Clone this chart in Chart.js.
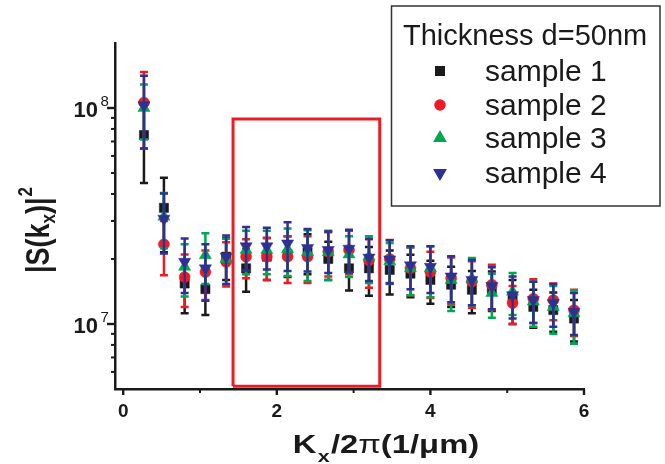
<!DOCTYPE html>
<html><head><meta charset="utf-8">
<script src="https://cdn.jsdelivr.net/npm/chart.js@4.4.1/dist/chart.umd.min.js"></script>
<style>html,body{margin:0;padding:0;background:#fff}canvas{display:block}</style>
</head><body>
<canvas id="c" width="665" height="464"></canvas>
<script>
// ---- data ----
const kx = [0.27,0.53,0.80,1.07,1.34,1.60,1.87,2.14,2.40,2.67,2.94,3.20,3.47,3.74,4.00,4.27,4.54,4.80,5.07,5.34,5.60,5.87];
const sample1 = [7.5e7,3.45e7,1.54e7,1.45e7,2.05e7,1.81e7,2.05e7,2.1e7,2.15e7,2.0e7,1.81e7,1.81e7,1.78e7,1.71e7,1.60e7,1.52e7,1.44e7,1.45e7,1.30e7,1.20e7,1.16e7,1.06e7];
const err1    = [3.0e7,1.3e7,0.42e7,0.35e7,0.45e7,0.4e7,0.45e7,0.45e7,0.45e7,0.4e7,0.38e7,0.46e7,0.41e7,0.38e7,0.36e7,0.32e7,0.32e7,0.3e7,0.3e7,0.24e7,0.24e7,0.23e7];
const sample2 = [1.06e8,2.34e7,1.65e7,1.74e7,1.94e7,2.05e7,2.05e7,2.05e7,2.05e7,2.16e7,2.2e7,1.97e7,2.0e7,1.81e7,1.74e7,1.63e7,1.57e7,1.52e7,1.25e7,1.31e7,1.29e7,1.16e7];
const err2    = [4.1e7,0.66e7,0.45e7,0.45e7,0.45e7,0.42e7,0.45e7,0.5e7,0.5e7,0.5e7,0.5e7,0.5e7,0.45e7,0.45e7,0.42e7,0.4e7,0.38e7,0.36e7,0.25e7,0.3e7,0.25e7,0.28e7];
const sample3 = [1.0e8,3.14e7,1.84e7,2.08e7,2.0e7,2.2e7,2.2e7,2.22e7,2.15e7,2.15e7,2.1e7,2.05e7,1.95e7,1.81e7,1.81e7,1.6e7,1.62e7,1.39e7,1.41e7,1.27e7,1.2e7,1.12e7];
const err3    = [2.85e7,0.9e7,0.5e7,0.55e7,0.48e7,0.5e7,0.5e7,0.55e7,0.57e7,0.55e7,0.45e7,0.5e7,0.42e7,0.45e7,0.48e7,0.45e7,0.4e7,0.32e7,0.31e7,0.3e7,0.3e7,0.31e7];
const sample4 = [1.03e8,3.07e7,1.94e7,1.81e7,2.05e7,2.29e7,2.29e7,2.36e7,2.25e7,2.2e7,2.23e7,2.03e7,1.99e7,1.87e7,1.84e7,1.66e7,1.6e7,1.5e7,1.36e7,1.29e7,1.25e7,1.14e7];
const err4    = [3.8e7,0.95e7,0.55e7,0.53e7,0.52e7,0.52e7,0.5e7,0.6e7,0.5e7,0.48e7,0.5e7,0.45e7,0.45e7,0.42e7,0.45e7,0.4e7,0.38e7,0.33e7,0.3e7,0.28e7,0.28e7,0.25e7];
const seriesNames = ['sample 1','sample 2','sample 3','sample 4'];
const legendTitle = 'Thickness d=50nm';
const rectX = [1.43,1.43,3.34,3.34,1.43];
const rectY = [5.15e6,8.9e7,8.9e7,5.15e6,5.15e6];
const xTickValues = [0,1,2,3,4,5,6];
const xTickLabels = ['0','','2','','4','','6'];
const yMajorTicks = [1e7,1e8];
const yMajorBase = ['10','10'];
const yMajorExp = ['7','8'];
const yMinorTicks = [6e6,7e6,8e6,9e6,2e7,3e7,4e7,5e7,6e7,7e7,8e7,9e7];

// ---- styles ----
const FONT = "'Liberation Sans', Arial, sans-serif";
const AX = '#1a1a1a';
const styles = [
  {color:'#1a1a1a', pointStyle:'rect', radius:6.5, rotation:0},
  {color:'#ed1c24', pointStyle:'circle', radius:5.5, rotation:0},
  {color:'#00a651', pointStyle:'triangle', radius:7, rotation:0},
  {color:'#2e3192', pointStyle:'triangle', radius:7, rotation:180}
];
const values = [sample1,sample2,sample3,sample4];
const errs = [err1,err2,err3,err4];

const datasets = values.map((v,s)=>({
  label: seriesNames[s],
  data: kx.map((x,i)=>({x:x, y:v[i]})),
  errors: errs[s],
  barColor: styles[s].color,
  backgroundColor: styles[s].color,
  borderColor: styles[s].color,
  pointStyle: styles[s].pointStyle,
  pointRadius: styles[s].radius,
  pointRotation: styles[s].rotation,
  pointBorderWidth: 0.5,
  showLine: false,
  order: 5 - s
}));
datasets.push({
  label:'box',
  data: rectX.map((x,i)=>({x:x,y:rectY[i]})),
  showLine:true, borderColor:'#ed1c24', borderWidth:3, pointRadius:0, fill:false,
  tension:0, order:0
});

const errorBars = {
  id:'errorBars',
  beforeDatasetDraw(chart, args){
    const ds = chart.data.datasets[args.index];
    if(!ds.errors) return;
    const xs = chart.scales.x, ys = chart.scales.y, ctx = chart.ctx;
    ctx.save();
    ctx.strokeStyle = ds.barColor; ctx.lineWidth = 2.5; ctx.lineCap='butt';
    ds.data.forEach((p,i)=>{
      const e = ds.errors[i];
      const px = xs.getPixelForValue(p.x);
      const yt = ys.getPixelForValue(p.y + e), yb = ys.getPixelForValue(p.y - e);
      ctx.beginPath();
      ctx.moveTo(px,yt); ctx.lineTo(px,yb);
      ctx.moveTo(px-4,yt); ctx.lineTo(px+4,yt);
      ctx.moveTo(px-4,yb); ctx.lineTo(px+4,yb);
      ctx.stroke();
    });
    ctx.restore();
  }
};

function drawRich(ctx, segs, cx, base){
  let total = 0;
  segs.forEach(s=>{ ctx.font = s.f; s.w = ctx.measureText(s.t).width; total += s.w + (s.gap||0); });
  let x = cx - total/2;
  ctx.textBaseline='alphabetic'; ctx.textAlign='left';
  segs.forEach(s=>{ x += (s.gap||0); ctx.font = s.f; ctx.fillText(s.t, x, base + (s.dy||0)); x += s.w; });
}

const decor = {
  id:'decor',
  afterDraw(chart){
    const ctx = chart.ctx, xs = chart.scales.x, ys = chart.scales.y, ca = chart.chartArea;
    ctx.save();
    ctx.strokeStyle = AX; ctx.fillStyle = AX;
    // ticks
    ctx.lineWidth = 2.4;
    yMajorTicks.forEach(v=>{ const y = ys.getPixelForValue(v); ctx.beginPath(); ctx.moveTo(ca.left,y); ctx.lineTo(ca.left-8,y); ctx.stroke(); });
    ctx.lineWidth = 2;
    yMinorTicks.forEach(v=>{ const y = ys.getPixelForValue(v); ctx.beginPath(); ctx.moveTo(ca.left,y); ctx.lineTo(ca.left-4,y); ctx.stroke(); });
    xTickValues.forEach((v,i)=>{ const x = xs.getPixelForValue(v); ctx.lineWidth = xTickLabels[i] ? 2.4 : 2; ctx.beginPath(); ctx.moveTo(x,ca.bottom); ctx.lineTo(x,ca.bottom+(xTickLabels[i]?6:4)); ctx.stroke(); });
    // x tick labels
    ctx.font = 'bold 19px ' + FONT; ctx.textAlign='center'; ctx.textBaseline='alphabetic';
    xTickValues.forEach((v,i)=>{ if(xTickLabels[i]) ctx.fillText(xTickLabels[i], xs.getPixelForValue(v), ca.bottom + 28); });
    // y tick labels with exponents
    yMajorTicks.forEach((v,i)=>{
      const y = ys.getPixelForValue(v);
      ctx.font = 'bold 22px ' + FONT; ctx.textAlign='right';
      ctx.fillText(yMajorBase[i], 98, y + 9);
      ctx.font = '15px ' + FONT; ctx.textAlign='left';
      ctx.fillText(yMajorExp[i], 100.5, y - 2);
    });
    // x title
    ctx.save();
    ctx.translate(386, 453); ctx.scale(1.26, 1);
    drawRich(ctx, [
      {t:'K', f:'bold 26px '+FONT},
      {t:'x', f:'bold 17px '+FONT, dy:9, gap:1},
      {t:'/2', f:'bold 26px '+FONT, gap:1},
      {t:'π', f:'26px '+FONT},
      {t:'(1/', f:'bold 26px '+FONT},
      {t:'μ', f:'bold 26px '+FONT},
      {t:'m)', f:'bold 26px '+FONT}
    ], 0, 0);
    ctx.restore();
    // y title
    ctx.save();
    ctx.translate(49, 230); ctx.rotate(-Math.PI/2); ctx.scale(1, 1.2);
    drawRich(ctx, [
      {t:'|S(k', f:'bold 27px '+FONT},
      {t:'x', f:'bold 17px '+FONT, dy:5},
      {t:')|', f:'bold 27px '+FONT},
      {t:'2', f:'bold 17px '+FONT, dy:-14, gap:1}
    ], 0, 0);
    ctx.restore();
    // legend
    ctx.fillStyle = '#fff'; ctx.fillRect(391.5, 6, 268.5, 200);
    ctx.lineWidth = 1.5; ctx.strokeStyle = '#333'; ctx.strokeRect(391.5, 6, 268.5, 200);
    ctx.fillStyle = AX;
    ctx.font = '29px ' + FONT; ctx.textAlign='left'; ctx.textBaseline='alphabetic';
    ctx.fillText(legendTitle, 403, 45);
    const rowsY = [71, 105, 138, 173];
    seriesNames.forEach((n,i)=>{
      ctx.fillStyle = styles[i].color; ctx.strokeStyle = styles[i].color;
      Chart.helpers.drawPoint(ctx, {pointStyle:styles[i].pointStyle, rotation:styles[i].rotation, radius:styles[i].radius-0.5, borderWidth:0.5}, 440, rowsY[i]);
      ctx.fillStyle = AX;
      ctx.font = '30px ' + FONT;
      ctx.fillText(n, 485, rowsY[i] + 10);
    });
    ctx.restore();
  }
};

new Chart(document.getElementById('c'), {
  type:'scatter',
  data:{datasets},
  plugins:[errorBars, decor],
  options:{
    responsive:false, animation:false,
    layout:{padding:{left:0, top:43, right:81, bottom:0}},
    plugins:{legend:{display:false}, tooltip:{enabled:false}},
    scales:{
      x:{type:'linear', min:-0.107, max:6,
        afterFit(s){ s.height = 75; },
        afterBuildTicks(s){ s.ticks = xTickValues.map(v=>({value:v})); },
        grid:{display:false, drawTicks:false},
        border:{display:true, color:AX, width:2.5},
        ticks:{display:false}
      },
      y:{type:'logarithmic', min:5e6, max:2e8,
        afterFit(s){ s.width = 115; },
        afterBuildTicks(s){ s.ticks = yMajorTicks.map(v=>({value:v})); },
        grid:{display:false, drawTicks:false},
        border:{display:true, color:AX, width:2.5},
        ticks:{display:false}
      }
    }
  }
});
</script>
</body></html>
